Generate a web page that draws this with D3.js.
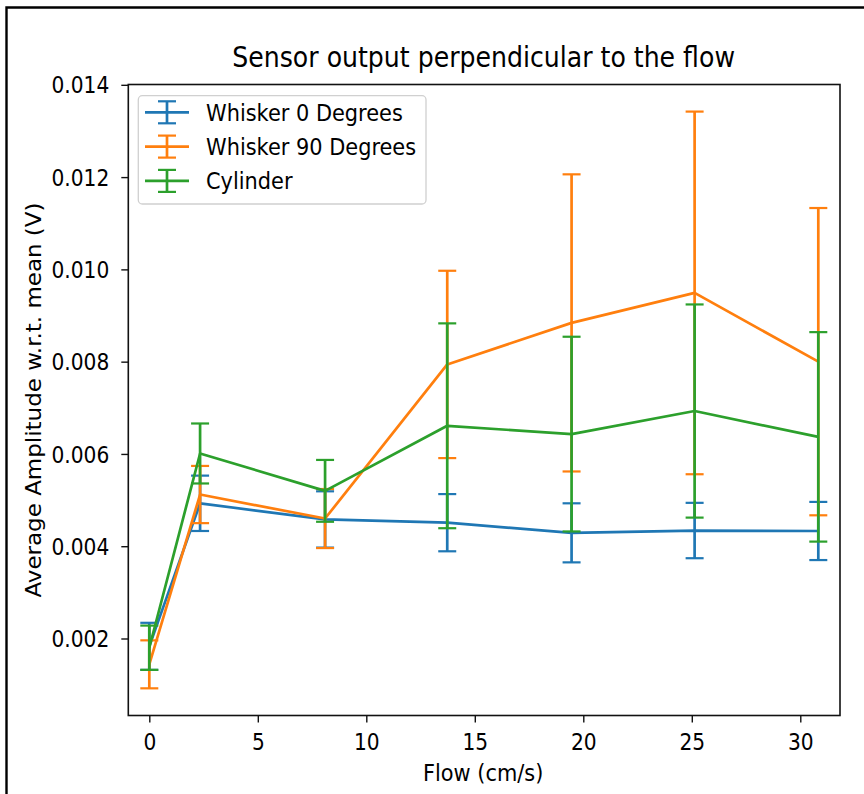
<!DOCTYPE html>
<html>
<head>
<meta charset="utf-8">
<script src="https://cdn.jsdelivr.net/npm/d3@7"></script>
<style>
  html, body { margin: 0; padding: 0; background: #fff; }
  svg { display: block; }
  text { font-family: "DejaVu Sans", sans-serif; fill: #000; }
</style>
</head>
<body>
<svg id="chart" width="864" height="794"></svg>
<script>
// Flow speeds (cm/s) at which the sensor was measured
const flow = [0, 2.34, 8.1, 13.73, 19.46, 25.13, 30.83];

// Mean amplitude (V) and its spread for each sensor shape
const whisker0     = [0.00183, 0.00493, 0.00458, 0.00451, 0.00429, 0.00434, 0.00433];
const whisker0Err  = [0.00051, 0.00060, 0.00061, 0.00062, 0.00064, 0.00060, 0.00063];
const whisker90    = [0.00144, 0.00512, 0.00460, 0.00794, 0.00884, 0.00949, 0.00800];
const whisker90Err = [0.00052, 0.00062, 0.00064, 0.00203, 0.00322, 0.00393, 0.00333];
const cylinder     = [0.00180, 0.00601, 0.00520, 0.00661, 0.00643, 0.00693, 0.00637];
const cylinderErr  = [0.00048, 0.00065, 0.00067, 0.00222, 0.00211, 0.00231, 0.00227];

const seriesNames  = ["Whisker 0 Degrees", "Whisker 90 Degrees", "Cylinder"];
const seriesColors = ["#1f77b4", "#ff7f0e", "#2ca02c"];

const xTicks = [0, 5, 10, 15, 20, 25, 30];
const yTicks = [0.002, 0.004, 0.006, 0.008, 0.010, 0.012, 0.014];

const titleText = "Sensor output perpendicular to the flow";
const xLabel = "Flow (cm/s)";
const yLabel = "Average Amplitude w.r.t. mean (V)";

const series = [
  { name: seriesNames[0], color: seriesColors[0], y: whisker0,  err: whisker0Err },
  { name: seriesNames[1], color: seriesColors[1], y: whisker90, err: whisker90Err },
  { name: seriesNames[2], color: seriesColors[2], y: cylinder,  err: cylinderErr }
];

// Plot geometry
const plotLeft = 128.3, plotRight = 840, plotTop = 84.5, plotBottom = 715.5;
const SY = 1.1;            // glyphs are drawn slightly taller than wide
const FS = 20.2;           // tick label size
const FL = 20.9;           // axis label and legend text size
const LW = 2.7;            // data line width
const CAP = 9;             // half width of error bar caps

const svg = d3.select("#chart");

const x = d3.scaleLinear().domain([-0.968, 31.83]).range([plotLeft, plotRight]);
const y = d3.scaleLinear().domain([0.000331, 0.014007]).range([plotBottom, plotTop]);

// Page frame
svg.append("path")
  .attr("d", "M6.5,794 L6.5,7.5 L864,7.5")
  .attr("fill", "none").attr("stroke", "#000").attr("stroke-width", 2.4);

// Title
svg.append("text")
  .attr("transform", `translate(${(plotLeft + plotRight) / 2 - 0.5},67) scale(1,${SY})`)
  .attr("text-anchor", "middle")
  .style("font-size", "25.2px")
  .text(titleText);

// X axis
const gx = svg.append("g")
  .attr("transform", `translate(0,${plotBottom})`)
  .call(d3.axisBottom(x).tickValues(xTicks).tickSizeInner(7).tickSizeOuter(0).tickFormat(d3.format("d")));
gx.select(".domain").remove();
gx.selectAll(".tick line").attr("stroke", "#111").attr("stroke-width", 1.4);
gx.selectAll(".tick text")
  .attr("y", null).attr("dy", null)
  .attr("transform", `translate(0,34) scale(1,${SY})`)
  .attr("fill", "#000")
  .style("font-size", FS + "px")
  .style("font-family", "DejaVu Sans, sans-serif");

// Y axis
const gy = svg.append("g")
  .attr("transform", `translate(${plotLeft},0)`)
  .call(d3.axisLeft(y).tickValues(yTicks).tickSizeInner(7).tickSizeOuter(0).tickFormat(d3.format(".3f")));
gy.select(".domain").remove();
gy.selectAll(".tick line").attr("stroke", "#111").attr("stroke-width", 1.4);
gy.selectAll(".tick text")
  .attr("x", null).attr("dy", null)
  .attr("transform", `translate(-19,8.1) scale(1,${SY})`)
  .attr("text-anchor", "end")
  .attr("fill", "#000")
  .style("font-size", FS + "px")
  .style("font-family", "DejaVu Sans, sans-serif");

// Axis labels
svg.append("text")
  .attr("transform", `translate(${(plotLeft + plotRight) / 2 - 1},781) scale(1,${SY})`)
  .attr("text-anchor", "middle")
  .style("font-size", FL + "px")
  .text(xLabel);

svg.append("text")
  .attr("transform", `translate(40.5,${(plotTop + plotBottom) / 2}) scale(1,${SY}) rotate(-90)`)
  .attr("text-anchor", "middle")
  .style("font-size", FL + "px")
  .text(yLabel);

// Data: line, vertical error bars and caps for each series
const plot = svg.append("g");
const line = d3.line().x((d, i) => x(flow[i])).y(d => y(d));

series.forEach(s => {
  const g = plot.append("g");
  g.append("path")
    .datum(s.y)
    .attr("d", line)
    .attr("fill", "none")
    .attr("stroke", s.color)
    .attr("stroke-width", LW)
    .attr("stroke-linejoin", "round");

  const pts = s.y.map((v, i) => ({ fx: flow[i], lo: v - s.err[i], hi: v + s.err[i] }));

  g.selectAll(".bar").data(pts).join("line")
    .attr("class", "bar")
    .attr("x1", d => x(d.fx)).attr("x2", d => x(d.fx))
    .attr("y1", d => y(d.lo)).attr("y2", d => y(d.hi))
    .attr("stroke", s.color).attr("stroke-width", LW);

  ["lo", "hi"].forEach(k => {
    g.selectAll(".cap-" + k).data(pts).join("line")
      .attr("class", "cap-" + k)
      .attr("x1", d => x(d.fx) - CAP).attr("x2", d => x(d.fx) + CAP)
      .attr("y1", d => y(d[k])).attr("y2", d => y(d[k]))
      .attr("stroke", s.color).attr("stroke-width", 2.2);
  });
});

// Axes frame
svg.append("rect")
  .attr("x", plotLeft).attr("y", plotTop)
  .attr("width", plotRight - plotLeft).attr("height", plotBottom - plotTop)
  .attr("fill", "none").attr("stroke", "#111").attr("stroke-width", 1.6);

// Legend
const lg = svg.append("g");
lg.append("rect")
  .attr("x", 138.3).attr("y", 95.7).attr("width", 287.7).attr("height", 108.3)
  .attr("rx", 4).attr("ry", 4)
  .attr("fill", "#fff").attr("fill-opacity", 0.8)
  .attr("stroke", "#d0d0d0").attr("stroke-width", 1.3);

series.forEach((s, i) => {
  const cy = 112.3 + i * 34.3;
  const cx = 167;
  const e = lg.append("g");
  e.append("line").attr("x1", 145).attr("x2", 189).attr("y1", cy).attr("y2", cy)
    .attr("stroke", s.color).attr("stroke-width", LW);
  e.append("line").attr("x1", cx).attr("x2", cx).attr("y1", cy - 11).attr("y2", cy + 11)
    .attr("stroke", s.color).attr("stroke-width", LW);
  [-11, 11].forEach(off => {
    e.append("line").attr("x1", cx - CAP).attr("x2", cx + CAP)
      .attr("y1", cy + off).attr("y2", cy + off)
      .attr("stroke", s.color).attr("stroke-width", 2.2);
  });
  e.append("text")
    .attr("transform", `translate(206,${cy + 8.3}) scale(1,${SY})`)
    .style("font-size", FL + "px")
    .text(s.name);
});
</script>
</body>
</html>
